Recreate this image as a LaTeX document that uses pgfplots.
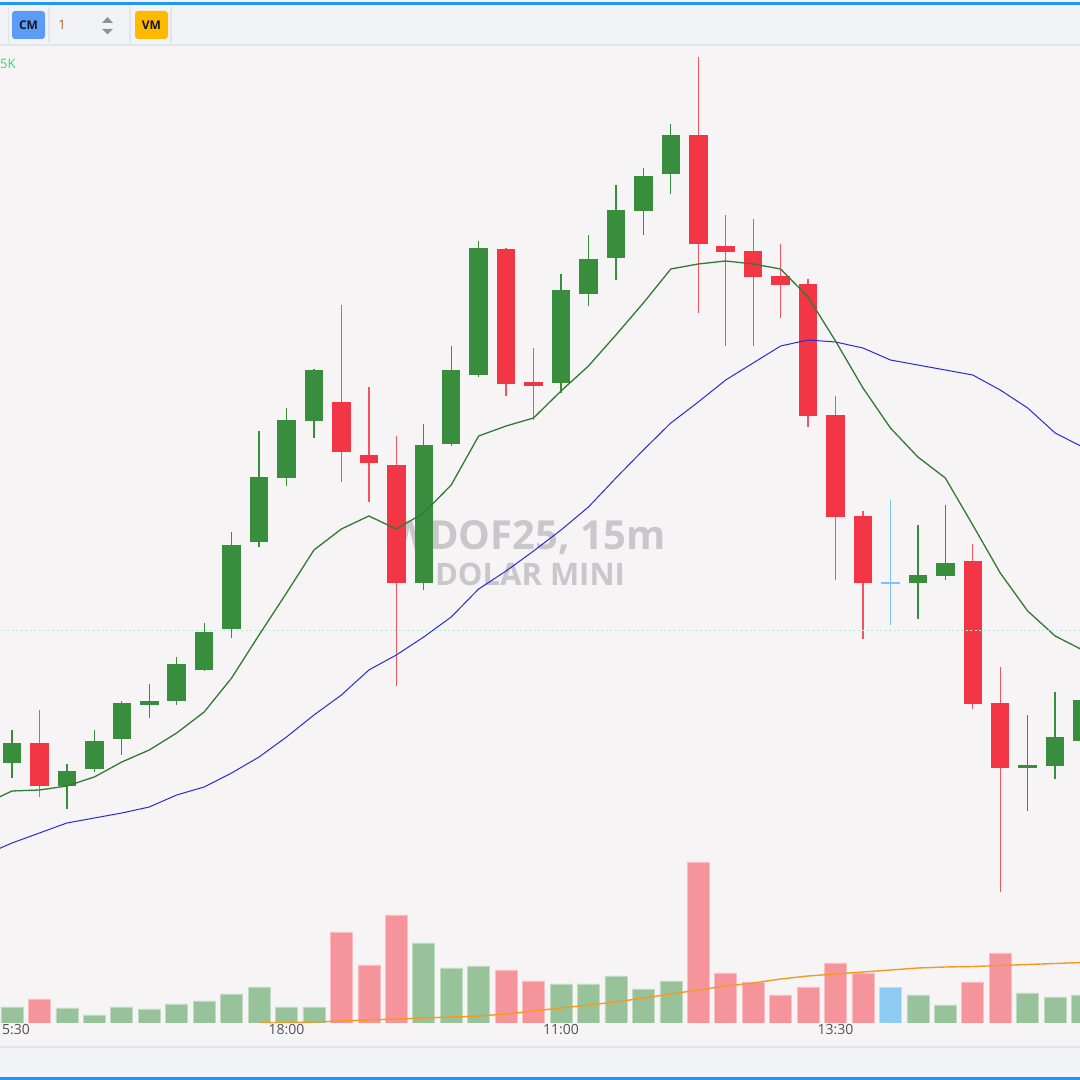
\documentclass[border=0pt]{standalone}
\usepackage{pgfplots}
\pgfplotsset{compat=1.18}
\usepackage{pgfplotstable}
\usepackage{fontspec}
\setmainfont{Open Sans}

\definecolor{bgmain}{HTML}{F6F4F5}
\definecolor{bgbar}{HTML}{F2F3F6}
\definecolor{bgbot}{HTML}{F3F4F8}
\definecolor{sepc}{HTML}{E2E4E9}
\definecolor{tvblue}{HTML}{2196F3}
\definecolor{cgreen}{HTML}{388E3C}
\definecolor{cred}{HTML}{F23645}
\definecolor{cblue}{HTML}{7CC4F4}
\definecolor{vgreen}{HTML}{98C39A}
\definecolor{vred}{HTML}{F5959B}
\definecolor{vblue}{HTML}{8DCBF2}
\definecolor{emagreen}{HTML}{327A35}
\definecolor{smablue}{HTML}{2B2BD6}
\definecolor{vmaorange}{HTML}{F59A1F}
\definecolor{lastline}{HTML}{B4F0D8}
\definecolor{wmark}{HTML}{C9C7CA}
\definecolor{ticktxt}{HTML}{50535C}
\definecolor{cmbtn}{HTML}{5B9CF6}
\definecolor{vmbtn}{HTML}{FFB900}
\definecolor{btntxt}{HTML}{131722}
\definecolor{onetxt}{HTML}{B0651F}
\definecolor{arrowc}{HTML}{8E9199}
\definecolor{fivek}{HTML}{22E27A}

% candles: i open high low close
\pgfplotstableread{
i o h l c
0 6067.00 6075.25 6063.25 6072.00
2 6061.25 6067.00 6055.75 6065.00
3 6065.50 6075.25 6064.75 6072.50
4 6073.00 6082.50 6069.00 6082.00
5 6081.50 6086.75 6078.25 6082.50
6 6082.50 6093.50 6081.50 6091.75
7 6090.50 6102.00 6090.00 6100.00
8 6100.75 6125.00 6098.50 6121.75
9 6122.25 6150.00 6121.00 6138.50
10 6138.25 6155.75 6136.25 6152.75
11 6152.50 6165.50 6148.25 6165.25
15 6112.00 6151.75 6110.25 6146.50
16 6146.75 6171.25 6146.25 6165.25
17 6164.00 6197.50 6163.50 6195.75
20 6162.00 6189.25 6159.50 6185.25
21 6184.25 6199.00 6181.25 6193.00
22 6193.25 6211.50 6187.75 6205.25
23 6205.00 6215.75 6199.00 6213.75
24 6214.25 6226.75 6209.25 6224.00
33 6112.00 6126.50 6103.00 6114.00
34 6113.75 6131.50 6112.75 6117.00
37 6065.75 6079.00 6055.00 6066.50
38 6066.25 6084.75 6063.00 6073.50
39 6072.50 6084.00 6071.50 6082.75
}\greenC
\pgfplotstableread{
i o h l c
1 6072.00 6080.25 6058.50 6061.25
12 6157.25 6181.50 6137.25 6144.75
13 6144.00 6161.00 6132.25 6142.00
14 6141.50 6148.75 6086.25 6112.00
18 6195.75 6195.75 6158.75 6162.00
19 6162.25 6170.75 6152.75 6161.25
25 6224.00 6243.50 6179.50 6196.75
26 6196.25 6204.00 6171.25 6194.75
27 6195.00 6203.00 6171.25 6188.50
28 6188.75 6196.75 6178.25 6186.50
29 6186.75 6188.00 6151.00 6153.75
30 6154.00 6158.75 6112.75 6128.50
31 6128.75 6130.00 6098.00 6112.00
35 6117.50 6121.75 6080.50 6081.75
36 6082.00 6091.00 6034.75 6065.75
}\redC
\pgfplotstableread{
i o h l c
32 6112.25 6132.75 6101.50 6111.75
}\blueC

% moving averages
\pgfplotstableread{
i ema sma
-1 6056.75 6044.00
0 6060.00 6047.00
1 6060.25 6049.50
2 6061.25 6052.00
3 6063.50 6053.25
4 6067.25 6054.50
5 6070.25 6056.00
6 6074.50 6059.00
7 6079.75 6061.00
8 6088.25 6064.50
9 6099.00 6068.50
10 6109.50 6073.50
11 6120.25 6079.00
12 6125.50 6084.00
13 6128.75 6090.25
14 6125.50 6094.00
15 6129.50 6098.50
16 6136.50 6103.50
17 6148.75 6110.50
18 6151.25 6115.00
19 6153.25 6120.00
20 6160.00 6125.25
21 6166.25 6131.00
22 6174.00 6138.25
23 6182.00 6145.25
24 6190.50 6152.00
25 6191.75 6157.25
26 6192.50 6162.75
27 6191.75 6167.00
28 6190.50 6171.25
29 6183.50 6172.75
30 6172.50 6172.25
31 6160.75 6170.75
32 6150.75 6167.75
33 6143.50 6166.50
34 6138.25 6165.25
35 6126.50 6164.00
36 6114.50 6160.25
37 6105.00 6155.75
38 6098.75 6149.50
39 6095.25 6146.00
}\maT

% volumes
\pgfplotstableread{
i v
0 1600
2 1500
3 800
4 1600
5 1400
6 1900
7 2200
8 2900
9 3600
10 1600
11 1600
15 8000
16 5500
17 5700
20 3900
21 3900
22 4700
23 3400
24 4200
33 2800
34 1800
37 3000
38 2600
39 2800
}\volG
\pgfplotstableread{
i v
1 2400
12 9100
13 5800
14 10800
18 5300
19 4200
25 16100
26 5000
27 4100
28 2800
29 3600
30 6000
31 5000
35 4100
36 7000
}\volR
\pgfplotstableread{
i v
32 3600
}\volB
\pgfplotstableread{
i vma
9 0
10 50
11 100
12 200
13 300
14 400
15 500
16 600
17 700
18 900
19 1200
20 1500
21 1800
22 2100
23 2500
24 2900
25 3300
26 3700
27 4000
28 4400
29 4700
30 4900
31 5100
32 5300
33 5500
34 5600
35 5650
36 5750
37 5850
38 5950
39 6050
}\vmaT

\pgfplotsset{candle/.style={only marks, no markers, mark size=0pt,
  error bars/.cd, y dir=both, y explicit, error mark=none}}

\begin{document}
\begin{tikzpicture}[x=1pt,y=1pt]
\path[use as bounding box] (0,0) rectangle (1080,1080);
\clip (0,0) rectangle (1080,1080);
\fill[bgmain] (0,0) rectangle (1080,1080);

% watermark
\node[font=\fontsize{40}{44}\selectfont\bfseries, text=wmark] at (528,542) {WDOF25, 15m};
\node[font=\fontsize{31}{34}\selectfont\bfseries, text=wmark] at (530,506) {DOLAR MINI};

% volume pane
\begin{axis}[
  at={(0,57)}, anchor=south west,
  scale only axis, width=1080pt, height=978pt,
  xmin=-0.437, xmax=38.907, ymin=0, ymax=97800,
  axis line style={draw=none}, tick style={draw=none},
  ytick=\empty,
  xtick={0,10,20,30}, xticklabels={15:30,18:00,11:00,13:30},
  xticklabel style={font=\fontsize{14}{16}\selectfont, text=ticktxt, yshift=2pt},
  every axis plot/.append style={bar width=22pt, bar shift=0pt},
]
\addplot[ybar, fill=vgreen, draw=vgreen!60!white, line width=0.6pt] table[x=i,y=v] {\volG};
\addplot[ybar, fill=vred, draw=vred!60!white, line width=0.6pt] table[x=i,y=v] {\volR};
\addplot[ybar, fill=vblue, draw=vblue!60!white, line width=0.6pt] table[x=i,y=v] {\volB};
\addplot[vmaorange, line width=1.4pt, no marks] table[x=i,y=vma] {\vmaT};
\end{axis}

% price pane
\begin{axis}[
  at={(0,0)}, anchor=south west,
  scale only axis, width=1080pt, height=1080pt,
  xmin=-0.437, xmax=38.907, ymin=5987.75, ymax=6257.75,
  hide axis,
]
% wicks
\addplot[candle, error bar style={line width=1.3pt, cgreen}]
  table[x=i, y expr={(\thisrow{h}+\thisrow{l})/2}, y error expr={(\thisrow{h}-\thisrow{l})/2}] {\greenC};
\addplot[candle, error bar style={line width=1.3pt, cred!85!white}]
  table[x=i, y expr={(\thisrow{h}+\thisrow{l})/2}, y error expr={(\thisrow{h}-\thisrow{l})/2}] {\redC};
\addplot[candle, error bar style={line width=1.5pt, cblue}]
  table[x=i, y expr={(\thisrow{h}+\thisrow{l})/2}, y error expr={(\thisrow{h}-\thisrow{l})/2}] {\blueC};
% bodies
\addplot[candle, error bar style={line width=18.5pt, cgreen}]
  table[x=i, y expr={(\thisrow{o}+\thisrow{c})/2}, y error expr={abs(\thisrow{c}-\thisrow{o})/2}] {\greenC};
\addplot[candle, error bar style={line width=18.5pt, cred}]
  table[x=i, y expr={(\thisrow{o}+\thisrow{c})/2}, y error expr={abs(\thisrow{c}-\thisrow{o})/2}] {\redC};
\addplot[candle, error bar style={line width=18.5pt, cblue}]
  table[x=i, y expr={(\thisrow{o}+\thisrow{c})/2}, y error expr={abs(\thisrow{c}-\thisrow{o})/2}] {\blueC};
% moving averages
\addplot[smablue, line width=1pt, no marks] table[x=i,y=sma] {\maT};
\addplot[emagreen, line width=1.3pt, no marks] table[x=i,y=ema] {\maT};
% last price line
\addplot[lastline, line width=1pt, dash pattern=on 2pt off 2.5pt, no marks] coordinates {(-1,6100) (40,6100)};
\end{axis}

% green label top-left
\node[anchor=west, inner sep=0pt, font=\fontsize{13}{15}\selectfont, text=fivek] at (0,1016) {5K};

% top toolbar
\fill[bgbar] (0,1035) rectangle (1080,1080);
\draw[sepc, line width=1.5pt] (0,1035) -- (1080,1035);
\fill[tvblue] (0,1075) rectangle (1080,1077.5);
\foreach \xx in {8.5,49,130,171} \draw[sepc, line width=1.5pt] (\xx,1037) -- (\xx,1073);
\fill[cmbtn, rounded corners=3pt] (12,1041) rectangle (45,1069);
\node[font=\fontsize{12}{14}\selectfont\bfseries, text=btntxt] at (28.5,1055) {CM};
\node[font=\fontsize{13}{15}\selectfont, text=onetxt] at (62,1055) {1};
\fill[arrowc] (102,1057) -- (113,1057) -- (107.5,1063) -- cycle;
\fill[arrowc] (102,1051) -- (113,1051) -- (107.5,1045.5) -- cycle;
\fill[vmbtn, rounded corners=3pt] (135,1041) rectangle (168,1069);
\node[font=\fontsize{12}{14}\selectfont\bfseries, text=btntxt] at (151.5,1055) {VM};

% bottom strip
\fill[bgbot] (0,0) rectangle (1080,33);
\draw[sepc, line width=1.5pt] (0,33) -- (1080,33);
\fill[tvblue] (0,0) rectangle (1080,2.5);
\end{tikzpicture}
\end{document}
